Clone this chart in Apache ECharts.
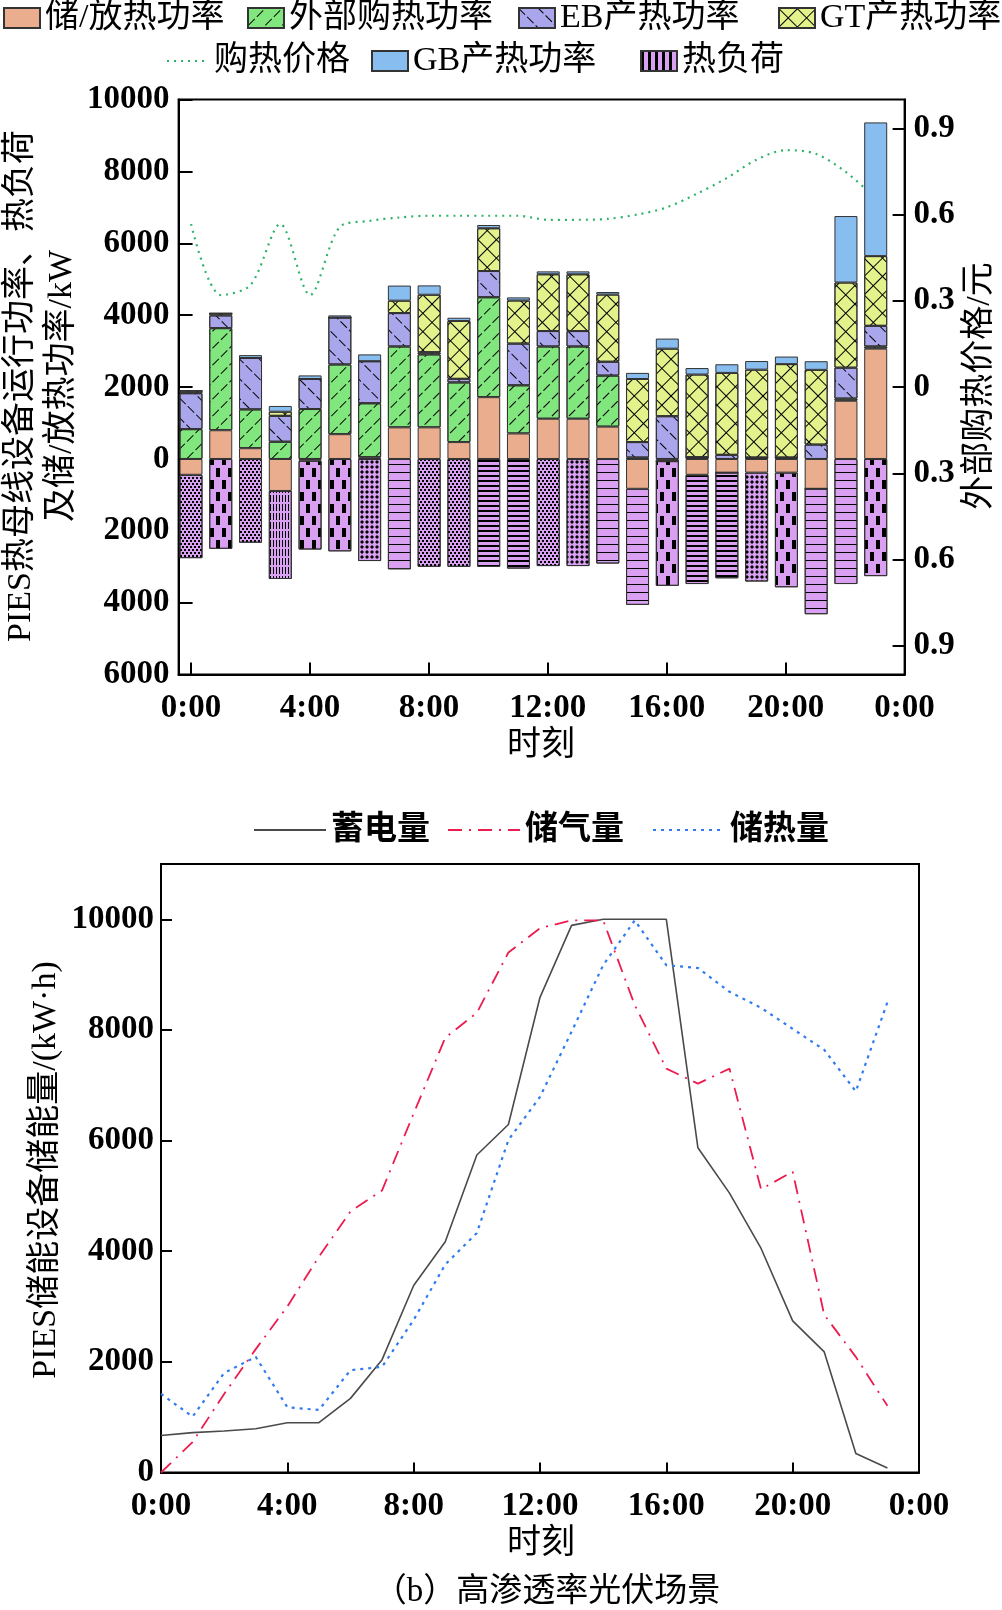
<!DOCTYPE html>
<html><head><meta charset="utf-8">
<script src="https://cdn.jsdelivr.net/npm/echarts@6/dist/echarts.min.js"></script>
<style>html,body{margin:0;padding:0;background:#fff}#c{width:1002px;height:1610px}</style>
</head><body><div id="c"></div>
<script>
// ---------- data ----------
const hourLabels = ['0:00','1:00','2:00','3:00','4:00','5:00','6:00','7:00','8:00','9:00','10:00','11:00','12:00','13:00','14:00','15:00','16:00','17:00','18:00','19:00','20:00','21:00','22:00','23:00'];
const hours = [0,1,2,3,4,5,6,7,8,9,10,11,12,13,14,15,16,17,18,19,20,21,22,23];
const storagePower  = [-440, 800, 300, -890, -50, 690, 50, 880, 880, 470, 1720, 710, 1120, 1120, 900, -830, -60, -440, -380, -380, -380, -830, 1620, 3070];
const purchasePower = [830, 2840, 1080, 480, 1390, 1940, 1500, 2250, 2030, 1660, 2780, 1340, 2010, 2010, 1420, 40, 0, 50, 0, 40, 40, 0, 60, 60];
const ebPower       = [1000, 355, 1430, 720, 835, 1305, 1170, 930, 60, 100, 730, 1160, 430, 430, 385, 430, 1190, 0, 115, 0, 0, 400, 860, 575];
const gtPower       = [70, 60, 0, 115, 0, 0, 0, 345, 1600, 1610, 1190, 1200, 1580, 1580, 1870, 1755, 1880, 2300, 2280, 2445, 2600, 2080, 2370, 1940];
const gbPower       = [0, 0, 80, 160, 100, 60, 190, 420, 260, 90, 90, 86, 80, 80, 70, 170, 280, 180, 240, 240, 210, 240, 1850, 3720];
const heatLoad      = [-2320, -2500, -2330, -2450, -2470, -2570, -2840, -3070, -3000, -3000, -3000, -3050, -2980, -2980, -2910, -3230, -3470, -3040, -2940, -3030, -3190, -3490, -3480, -3260];
const heatPrice     = [0.567, 0.32, 0.355, 0.567, 0.32, 0.557, 0.578, 0.59, 0.596, 0.596, 0.596, 0.596, 0.582, 0.582, 0.585, 0.6, 0.625, 0.672, 0.726, 0.79, 0.824, 0.812, 0.75, 0.66];
const batteryEnergy = [670, 720, 750, 790, 900, 900, 1340, 2040, 3380, 4170, 5740, 6290, 8590, 9890, 10000, 10000, 10000, 5870, 5050, 4050, 2740, 2180, 345, 80];
const gasEnergy     = [0, 550, 1420, 2230, 3000, 3900, 4720, 5100, 6490, 7860, 8310, 9400, 9840, 9980, 9980, 8450, 7300, 7030, 7300, 5120, 5440, 2850, 2090, 1205];
const heatEnergy    = [1420, 1010, 1800, 2090, 1180, 1130, 1850, 1910, 2760, 3760, 4330, 6010, 6790, 7970, 9170, 9980, 9170, 9120, 8690, 8400, 8020, 7640, 6890, 8500];
const topTimeTicks  = [0, 4, 8, 12, 16, 20, 24];
const priceTicks    = [-0.9, -0.6, -0.3, 0, 0.3, 0.6, 0.9];
const energyTicks   = [0, 2000, 4000, 6000, 8000, 10000];
const loadPattern   = ['A','B','A','C','B','B','E','D2','A','A','D1','D1','A','E','D2','D2','B','D1','D1','E','B','D2','D2','B'];

// ---------- styles ----------
const FONT = "'Liberation Serif','Noto Sans CJK SC',serif";
const black = '#000';
const decals = {
  green: {symbol:'rect', color:black, dashArrayX:[[9,3]], dashArrayY:[1,11], rotation:-Math.PI/4},
  eb:    {symbol:'rect', color:black, dashArrayX:[[9,3]], dashArrayY:[1,13], rotation:Math.PI/4},
  gt:    {symbol:'rect', color:black, dashArrayX:[[13,0],[1,12]], dashArrayY:[1,0,12,0], rotation:Math.PI/4},
  loadLegend: {symbol:'rect', color:black, dashArrayX:[[3,4]], dashArrayY:[10,0]},
  A:  {symbol:'rect', color:black, dashArrayX:[[2,2],[0,2,2,0]], dashArrayY:[2,1]},
  B:  {symbol:'rect', color:black, dashArrayX:[[4,8],[0,6,4,2]], dashArrayY:[9,3]},
  C:  {symbol:'rect', color:black, dashArrayX:[[1,2]], dashArrayY:[7,2]},
  D1: {symbol:'rect', color:black, dashArrayX:[[10,0]], dashArrayY:[2,3]},
  D2: {symbol:'rect', color:black, dashArrayX:[[10,0]], dashArrayY:[1,7]},
  E:  {symbol:'diamond', color:black, dashArrayX:[[4,1]], dashArrayY:[4,1]}
};
const border = {borderColor:'#333', borderWidth:1};
const numLabel = {color:'#000', fontSize:33, fontWeight:'bold', fontFamily:"'Liberation Serif',serif"};
const axLine = {show:true, onZero:false, lineStyle:{color:'#000', width:2}};

function barSeries(name, data, color, decal) {
  const s = {name, type:'bar', xAxisIndex:1, yAxisIndex:2, stack:'heat', barWidth:23, z:3,
    data, itemStyle:Object.assign({color}, border)};
  if (decal) s.itemStyle.decal = decal;
  return s;
}
function legendItem(name, left, top, isLine, itemWidth, bold) {
  const l = {data:[name], left, top, padding:0, itemWidth: itemWidth || 36, itemHeight: isLine ? 14 : 20,
    textStyle:{fontSize: bold ? 33 : 34, fontFamily:FONT, color:'#000', fontWeight: bold ? 'bold' : 'normal', lineHeight:36}};
  if (!isLine) l.icon = 'rect';
  else l.itemStyle = {color:'rgba(0,0,0,0)', borderWidth:0, opacity:0};
  return l;
}
function textEl(text, x, y, rot, size) {
  const e = {type:'text', x, y, style:{text, align:'center', verticalAlign:'middle', textAlign:'center', textVerticalAlign:'middle', fontSize:size || 34, fontFamily:FONT, fill:'#000'}};
  if (rot) e.rotation = rot;
  return e;
}

const chart = echarts.init(document.getElementById('c'), null, {renderer:'canvas'});
const option = {
  animation:false,
  backgroundColor:'#fff',
  textStyle:{fontFamily:FONT},
  legend:[
    legendItem('储/放热功率', 3, 0),
    legendItem('外部购热功率', 247, 0),
    legendItem('EB产热功率', 518, 0),
    legendItem('GT产热功率', 778, 0),
    legendItem('购热价格', 166, 43, true, 42),
    legendItem('GB产热功率', 371, 43),
    legendItem('热负荷', 640, 43),
    legendItem('蓄电量', 253, 812, true, 72, true),
    legendItem('储气量', 447, 812, true, 72, true),
    legendItem('储热量', 652, 812, true, 72, true)
  ],
  grid:[
    {left:178.6, width:726, top:99.6, height:575, show:true, borderColor:'#000', borderWidth:2, backgroundColor:'transparent', outerBoundsMode:'none'},
    {left:176.1, width:714.5, top:99.6, height:575, outerBoundsMode:'none'},
    {left:161, width:758, top:864, height:608.5, show:true, borderColor:'#000', borderWidth:2, backgroundColor:'transparent', outerBoundsMode:'none'}
  ],
  xAxis:[
    {gridIndex:0, type:'value', min:-0.42, max:24, axisLine:axLine,
     axisTick:{show:true, inside:true, length:12, customValues:topTimeTicks, lineStyle:{color:'#000', width:2}},
     axisLabel:Object.assign({margin:17, customValues:topTimeTicks, formatter:v => (Math.round(v) % 24) + ':00'}, numLabel),
     splitLine:{show:false}},
    {gridIndex:1, type:'category', data:hourLabels, boundaryGap:true, show:false},
    {gridIndex:2, type:'value', min:0, max:24, interval:4, axisLine:axLine,
     axisTick:{show:true, inside:true, length:10, lineStyle:{color:'#000', width:2}},
     axisLabel:Object.assign({margin:17, formatter:v => (Math.round(v) % 24) + ':00'}, numLabel),
     splitLine:{show:false}}
  ],
  yAxis:[
    {gridIndex:0, type:'value', min:-6000, max:10000, interval:2000, position:'left', axisLine:axLine,
     axisTick:{show:true, inside:true, length:14, lineStyle:{color:'#000', width:2}},
     axisLabel:Object.assign({margin:9, formatter:v => String(Math.abs(v))}, numLabel),
     splitLine:{show:false}},
    {gridIndex:0, type:'value', min:-1, max:1, position:'right', axisLine:axLine,
     axisTick:{show:true, inside:true, length:12, customValues:priceTicks, lineStyle:{color:'#000', width:2}},
     axisLabel:Object.assign({margin:9, customValues:priceTicks, formatter:v => Math.abs(v) < 1e-9 ? '0' : Math.abs(v).toFixed(1)}, numLabel),
     splitLine:{show:false}},
    {gridIndex:1, type:'value', min:-6000, max:10000, show:false},
    {gridIndex:2, type:'value', min:0, max:11000, axisLine:axLine,
     axisTick:{show:true, inside:true, length:11, customValues:energyTicks, lineStyle:{color:'#000', width:2}},
     axisLabel:Object.assign({margin:7, customValues:energyTicks, formatter:v => String(v)}, numLabel),
     splitLine:{show:false}}
  ],
  series:[
    barSeries('储/放热功率', storagePower, '#eaae8e'),
    barSeries('外部购热功率', purchasePower, '#82e67e', decals.green),
    barSeries('EB产热功率', ebPower, '#aaa6ec', decals.eb),
    barSeries('GT产热功率', gtPower, '#e4f28c', decals.gt),
    barSeries('GB产热功率', gbPower, '#88bdf0'),
    barSeries('热负荷', heatLoad.map((v, i) => ({value:v, itemStyle:{decal:Object.assign({}, decals[loadPattern[i]])}})), '#d9a0f2', decals.loadLegend),
    {name:'购热价格', type:'line', xAxisIndex:0, yAxisIndex:1, z:2, smooth:0.3, symbol:'none',
     data:hours.map((h, i) => [h, heatPrice[i]]),
     lineStyle:{color:'#2fb36a', width:2.2, type:[2,5]}, itemStyle:{color:'#2fb36a'}},
    {name:'蓄电量', type:'line', xAxisIndex:2, yAxisIndex:3, symbol:'none',
     data:hours.map((h, i) => [h, batteryEnergy[i]]),
     lineStyle:{color:'#4a4a4a', width:1.6, type:'solid'}, itemStyle:{color:'#4a4a4a'}},
    {name:'储气量', type:'line', xAxisIndex:2, yAxisIndex:3, symbol:'none',
     data:hours.map((h, i) => [h, gasEnergy[i]]),
     lineStyle:{color:'#ec1c4e', width:1.8, type:[14,7,2,7]}, itemStyle:{color:'#ec1c4e'}},
    {name:'储热量', type:'line', xAxisIndex:2, yAxisIndex:3, symbol:'none',
     data:hours.map((h, i) => [h, heatEnergy[i]]),
     lineStyle:{color:'#2f7bf0', width:2.2, type:[3,5]}, itemStyle:{color:'#2f7bf0'}}
  ],
  graphic:[
    textEl('PIES热母线设备运行功率、热负荷', 21, 386, Math.PI/2),
    textEl('及储/放热功率/kW', 62, 386, Math.PI/2),
    textEl('外部购热价格/元', 980, 386, Math.PI/2),
    textEl('时刻', 541, 746),
    textEl('PIES储能设备储能量/(kW·h)', 46, 1170, Math.PI/2),
    textEl('时刻', 541, 1544),
    textEl('（b）高渗透率光伏场景', 547, 1592, 0, 33)
  ]
};
chart.setOption(option);
</script>
</body></html>
